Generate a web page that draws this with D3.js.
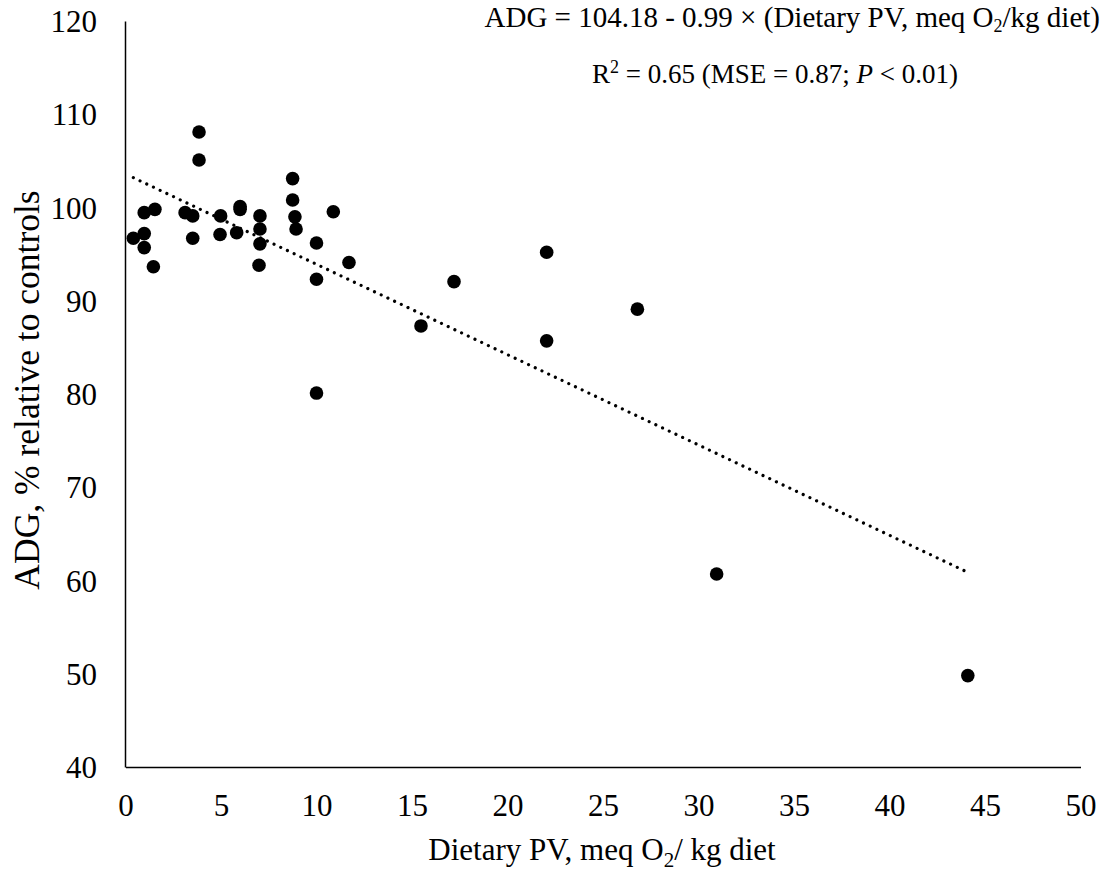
<!DOCTYPE html>
<html>
<head>
<meta charset="utf-8">
<script src="https://cdn.jsdelivr.net/npm/d3@7"></script>
<style>
  body { margin: 0; background: #fff; }
  svg text { font-family: "Liberation Serif", "Times New Roman", serif; fill: #000; }
</style>
</head>
<body>
<svg id="chart" width="1113" height="873"></svg>
<script>
// Data: Dietary PV (meq O2/kg diet) vs ADG (% relative to controls)
const dietaryPV = [
  3.85, 3.85, 8.75, 8.75, 8.87, 8.93, 10.88, 10.0, 10.0, 11.7,
  7.04, 7.04, 7.04, 6.99, 6.0, 6.0, 5.82, 4.98, 4.95, 3.52,
  3.12, 3.52, 1.54, 0.98, 0.98, 0.98, 0.41, 1.46, 10.0,
  15.47, 17.2, 22.05, 22.05, 26.8, 30.95, 44.1
];
const adgPct = [
  108.1, 105.1, 103.1, 100.8, 99.0, 97.7, 99.55, 96.2, 92.3, 94.1,
  99.1, 97.7, 96.1, 93.8, 100.1, 99.8, 97.3, 99.1, 97.1, 99.1,
  99.45, 96.7, 99.8, 99.45, 97.2, 95.7, 96.7, 93.65, 80.1,
  87.3, 92.05, 95.2, 85.7, 89.1, 60.7, 49.8
];
const xTicks = [0, 5, 10, 15, 20, 25, 30, 35, 40, 45, 50];
const yTicks = [40, 50, 60, 70, 80, 90, 100, 110, 120];

const svg = d3.select("#chart");
const x = d3.scaleLinear().domain([0, 50]).range([125.5, 1080.5]);
const y = d3.scaleLinear().domain([40, 120]).range([767, 21]);

// axes lines (no tick marks)
const xAxis = d3.axisBottom(x).tickValues(xTicks).tickSize(0).tickPadding(0).tickFormat(d3.format("d"));
const gx = svg.append("g").attr("transform", `translate(0,767)`).call(xAxis);
gx.select(".domain").attr("stroke", "#000").attr("stroke-width", 1.5);
gx.selectAll(".tick text")
  .attr("font-size", 31).attr("dy", null).attr("y", 49)
  .attr("text-anchor", "middle")
  .style("font-family", '"Liberation Serif", serif');

const yAxis = d3.axisLeft(y).tickValues(yTicks).tickSize(0).tickPadding(0).tickFormat(d3.format("d"));
const gy = svg.append("g").attr("transform", `translate(125,0)`).call(yAxis);
gy.select(".domain").attr("stroke", "#000").attr("stroke-width", 1.5);
gy.selectAll(".tick text")
  .attr("font-size", 31).attr("dy", null).attr("x", -28).attr("y", 10.5)
  .attr("text-anchor", "end")
  .style("font-family", '"Liberation Serif", serif');

// trend line: least squares fit over data
const n = dietaryPV.length;
const mx = d3.mean(dietaryPV), my = d3.mean(adgPct);
let sxy = 0, sxx = 0;
for (let i = 0; i < n; i++) { sxy += (dietaryPV[i]-mx)*(adgPct[i]-my); sxx += (dietaryPV[i]-mx)**2; }
const slope = sxy / sxx, intercept = my - slope * mx;
const xr = d3.extent(dietaryPV);
svg.append("line")
  .attr("x1", x(xr[0])).attr("y1", y(intercept + slope*xr[0]))
  .attr("x2", x(xr[1])).attr("y2", y(intercept + slope*xr[1]))
  .attr("stroke", "#000").attr("stroke-width", 3.2)
  .attr("stroke-linecap", "round").attr("stroke-dasharray", "0.01 7.4");

// points
svg.append("g").selectAll("circle")
  .data(dietaryPV.map((d, i) => [d, adgPct[i]]))
  .join("circle")
  .attr("cx", d => x(d[0])).attr("cy", d => y(d[1]))
  .attr("r", 6.8).attr("fill", "#000");

// x title
const xt = svg.append("text")
  .attr("x", 602).attr("y", 860)
  .attr("text-anchor", "middle").attr("font-size", 31);
xt.append("tspan").text("Dietary PV, meq O");
xt.append("tspan").attr("font-size", 21).attr("dy", 7).text("2");
xt.append("tspan").attr("dy", -7).text("/ kg diet");

// y title
svg.append("text")
  .attr("transform", `translate(39,390) rotate(-90)`)
  .attr("text-anchor", "middle").attr("font-size", 35.5)
  .text("ADG, % relative to controls");

// annotations
const a1 = svg.append("text")
  .attr("x", 1100).attr("y", 27)
  .attr("text-anchor", "end").attr("font-size", 29);
a1.append("tspan").text("ADG = 104.18 - 0.99 × (Dietary PV, meq O");
a1.append("tspan").attr("font-size", 18).attr("dy", 5).text("2");
a1.append("tspan").attr("dy", -5).text("/kg diet)");

const a2 = svg.append("text")
  .attr("x", 775).attr("y", 83)
  .attr("text-anchor", "middle").attr("font-size", 27);
a2.append("tspan").text("R");
a2.append("tspan").attr("font-size", 18).attr("dy", -10).text("2");
a2.append("tspan").attr("dy", 10).text(" = 0.65 (MSE = 0.87; ");
a2.append("tspan").attr("font-style", "italic").text("P");
a2.append("tspan").text(" < 0.01)");
</script>
</body>
</html>
